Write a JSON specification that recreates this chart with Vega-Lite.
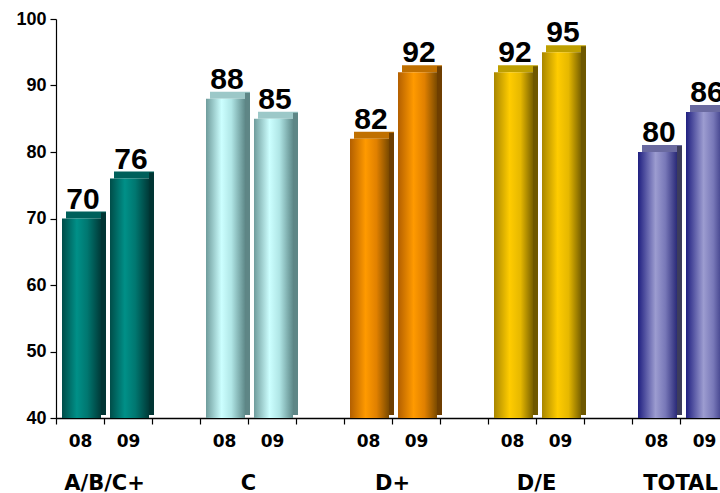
{
  "$schema": "https://vega.github.io/schema/vega-lite/v6.json",
  "width": 664,
  "height": 399,
  "autosize": {"type": "none"},
  "padding": {"left": 56, "top": 19, "right": 0, "bottom": 75},
  "background": "white",
  "config": {
    "view": {"stroke": null},
    "axis": {"grid": false, "title": null, "domainColor": "#000", "tickColor": "#000", "labelColor": "#000"},
    "axisY": {"labelFont": "Liberation Sans", "labelFontWeight": "bold", "labelFontSize": 18, "tickSize": 6, "labelPadding": 4, "domainWidth": 1.2, "tickWidth": 1.2}
  },
  "data": {
    "values": [
      {"group": "A/B/C+", "year": "08", "slot": 0, "value": 70},
      {"group": "A/B/C+", "year": "09", "slot": 1, "value": 76},
      {"group": "C", "year": "08", "slot": 3, "value": 88},
      {"group": "C", "year": "09", "slot": 4, "value": 85},
      {"group": "D+", "year": "08", "slot": 6, "value": 82},
      {"group": "D+", "year": "09", "slot": 7, "value": 92},
      {"group": "D/E", "year": "08", "slot": 9, "value": 92},
      {"group": "D/E", "year": "09", "slot": 10, "value": 95},
      {"group": "TOTAL", "year": "08", "slot": 12, "value": 80},
      {"group": "TOTAL", "year": "09", "slot": 13, "value": 86}
    ]
  },
  "resolve": {"axis": {"x": "independent"}, "scale": {"color": "independent"}},
  "layer": [
    {
      "mark": {"type": "rect", "clip": true, "xOffset": 10, "x2Offset": 50, "yOffset": -7, "y2Offset": 0},
      "encoding": {
        "x": {"field": "slot", "type": "quantitative", "scale": {"domain": [0, 13.8333], "nice": false, "zero": false}, "axis": null},
        "x2": {"field": "slot"},
        "y": {"field": "value", "type": "quantitative", "title": null},
        "y2": {"field": "value"},
        "color": {"field": "group", "type": "nominal", "legend": null, "scale": {"domain": ["A/B/C+", "C", "D+", "D/E", "TOTAL"], "range": ["#00605b", "#9cc8c8", "#c07000", "#bfa000", "#6a6aa0"]}}
      }
    },
    {
      "mark": {"type": "rect", "clip": true, "xOffset": 45, "x2Offset": 50, "yOffset": -6, "y2Offset": -3},
      "encoding": {
        "x": {"field": "slot", "type": "quantitative", "axis": null},
        "x2": {"field": "slot"},
        "y": {"field": "value", "type": "quantitative", "title": null},
        "y2": {"datum": 40},
        "color": {"field": "group", "type": "nominal", "legend": null, "scale": {"domain": ["A/B/C+", "C", "D+", "D/E", "TOTAL"], "range": ["#003533", "#5e8686", "#6e3e00", "#6e5800", "#3c3c5c"]}}
      }
    },
    {
      "transform": [{"filter": "datum.group === 'A/B/C+'"}],
      "mark": {"type": "rect", "clip": true, "xOffset": 6, "x2Offset": 45,
        "color": {"gradient": "linear", "x1": 0, "x2": 1, "y1": 0, "y2": 0, "stops": [{"offset": 0, "color": "#004d49"}, {"offset": 0.38, "color": "#009088"}, {"offset": 0.65, "color": "#007770"}, {"offset": 1, "color": "#003a38"}]}},
      "encoding": {
        "x": {"field": "slot", "type": "quantitative", "axis": {"orient": "bottom", "values": [0, 1, 2, 3, 4, 5, 6, 7, 8, 9, 10, 11, 12, 13], "labels": false, "tickSize": 6, "domainWidth": 1.5, "tickWidth": 1.2}},
        "x2": {"field": "slot"},
        "y": {"field": "value", "type": "quantitative", "title": null, "scale": {"domain": [40, 100], "nice": false, "zero": false}, "axis": {"values": [40, 50, 60, 70, 80, 90, 100]}},
        "y2": {"datum": 40}
      }
    },
    {
      "transform": [{"filter": "datum.group === 'C'"}],
      "mark": {"type": "rect", "clip": true, "xOffset": 6, "x2Offset": 45,
        "color": {"gradient": "linear", "x1": 0, "x2": 1, "y1": 0, "y2": 0, "stops": [{"offset": 0, "color": "#6f9c9c"}, {"offset": 0.4, "color": "#ccffff"}, {"offset": 0.65, "color": "#b0e6e6"}, {"offset": 1, "color": "#5f8a8a"}]}},
      "encoding": {
        "x": {"field": "slot", "type": "quantitative", "axis": {"orient": "bottom", "values": [0.5, 1.5, 3.5, 4.5, 6.5, 7.5, 9.5, 10.5, 12.5, 13.5], "labelExpr": "(datum.value % 3) == 0.5 ? '08' : '09'", "domain": false, "ticks": false, "tickSize": 0, "labelPadding": 15, "labelFont": "DejaVu Sans", "labelFontWeight": "bold", "labelFontSize": 17, "labelFlush": false, "labelOverlap": false}},
        "x2": {"field": "slot"},
        "y": {"field": "value", "type": "quantitative", "title": null},
        "y2": {"datum": 40}
      }
    },
    {
      "transform": [{"filter": "datum.group === 'D+'"}],
      "mark": {"type": "rect", "clip": true, "xOffset": 6, "x2Offset": 45,
        "color": {"gradient": "linear", "x1": 0, "x2": 1, "y1": 0, "y2": 0, "stops": [{"offset": 0, "color": "#b35f00"}, {"offset": 0.4, "color": "#ff9a00"}, {"offset": 0.68, "color": "#e08000"}, {"offset": 1, "color": "#7a4a00"}]}},
      "encoding": {
        "x": {"field": "slot", "type": "quantitative", "axis": {"orient": "bottom", "values": [1, 4, 7, 10, 13], "labelExpr": "['A/B/C+', 'C', 'D+', 'D/E', 'TOTAL'][round((datum.value - 1) / 3)]", "domain": false, "ticks": false, "tickSize": 0, "labelPadding": 54, "labelFont": "DejaVu Sans", "labelFontWeight": "bold", "labelFontSize": 21, "labelFlush": false, "labelOverlap": false}},
        "x2": {"field": "slot"},
        "y": {"field": "value", "type": "quantitative", "title": null},
        "y2": {"datum": 40}
      }
    },
    {
      "transform": [{"filter": "datum.group === 'D/E'"}],
      "mark": {"type": "rect", "clip": true, "xOffset": 6, "x2Offset": 45,
        "color": {"gradient": "linear", "x1": 0, "x2": 1, "y1": 0, "y2": 0, "stops": [{"offset": 0, "color": "#a88600"}, {"offset": 0.4, "color": "#ffcc00"}, {"offset": 0.68, "color": "#e6b800"}, {"offset": 1, "color": "#7a6200"}]}},
      "encoding": {
        "x": {"field": "slot", "type": "quantitative", "axis": null},
        "x2": {"field": "slot"},
        "y": {"field": "value", "type": "quantitative", "title": null},
        "y2": {"datum": 40}
      }
    },
    {
      "transform": [{"filter": "datum.group === 'TOTAL'"}],
      "mark": {"type": "rect", "clip": true, "xOffset": 6, "x2Offset": 45,
        "color": {"gradient": "linear", "x1": 0, "x2": 1, "y1": 0, "y2": 0, "stops": [{"offset": 0, "color": "#1f1f80"}, {"offset": 0.45, "color": "#9c9cd0"}, {"offset": 0.7, "color": "#7878b8"}, {"offset": 1, "color": "#2a2a78"}]}},
      "encoding": {
        "x": {"field": "slot", "type": "quantitative", "axis": null},
        "x2": {"field": "slot"},
        "y": {"field": "value", "type": "quantitative", "title": null},
        "y2": {"datum": 40}
      }
    },
    {
      "mark": {"type": "text", "clip": true, "xOffset": 27, "dy": -10, "baseline": "alphabetic", "align": "center", "font": "Liberation Sans", "fontWeight": "bold", "fontSize": 30, "color": "#000"},
      "encoding": {
        "x": {"field": "slot", "type": "quantitative", "axis": null},
        "y": {"field": "value", "type": "quantitative", "title": null},
        "text": {"field": "value", "type": "quantitative"}
      }
    }
  ]
}
